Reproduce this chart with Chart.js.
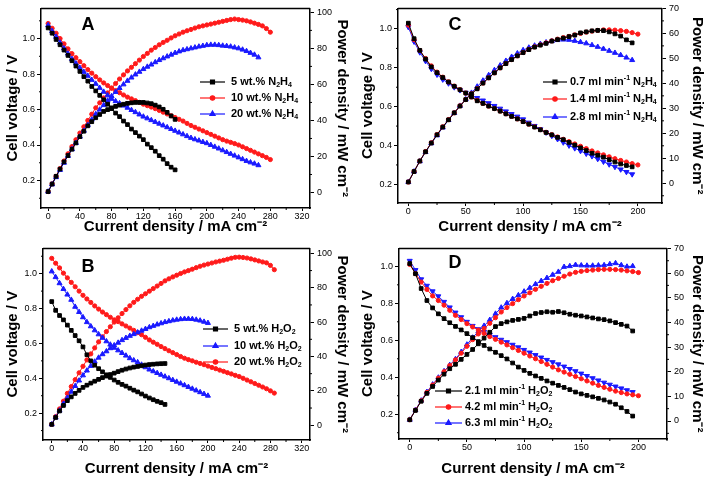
<!DOCTYPE html>
<html>
<head>
<meta charset="utf-8">
<script src="https://cdn.jsdelivr.net/npm/chart.js@4.4.0/dist/chart.umd.min.js"></script>
<style>
  body { margin: 0; background: #fff; width: 710px; height: 482px; position: relative; overflow: hidden; }
  canvas { position: absolute; }
</style>
</head>
<body>
<canvas id="chartA"></canvas>
<canvas id="chartB"></canvas>
<canvas id="chartC"></canvas>
<canvas id="chartD"></canvas>
<script>
// Current density (mA cm-2) sampling used by the curves
const currAB = [0,5,10,15,20,25,30,35,40,45,50,55,60,65,70,75,80,85,90,95,100,105,110,115,120,125,130,135,140,145,
  150,155,160,165,170,175,180,185,190,195,200,205,210,215,220,225,230,235,240,245,250,255,260,265,270,275,280,285];
const currCD = [0,5,10,15,20,25,30,35,40,45,50,55,60,65,70,75,80,85,90,95,100,105,110,115,120,125,130,135,140,145,
  150,155,160,165,170,175,180,185,190,195,200];

// A: N2H4 concentration
const aBlackV = [1.06,1.03,0.995,0.965,0.935,0.905,0.875,0.845,0.815,0.785,0.76,0.73,0.705,0.68,0.655,0.63,0.605,0.58,0.56,0.535,
  0.515,0.49,0.47,0.45,0.43,0.405,0.385,0.365,0.34,0.32,0.295,0.275,0.26];
const aBlackP = [0.5,4.7,9,13,17,20.5,24,27.5,31,34,37,39.3,41.5,43.3,45,46,47,47.8,48.5,49,49.5,49.8,50,50,50,49.7,49.3,48.5,47.5,46.2,
  44.5,42.5,40.6];
const aRedV = [1.085,1.058,1.03,1.0,0.97,0.942,0.915,0.892,0.87,0.847,0.825,0.805,0.785,0.767,0.75,0.735,0.72,0.707,0.695,0.682,
  0.67,0.66,0.65,0.64,0.63,0.622,0.614,0.605,0.595,0.585,0.575,0.565,0.555,0.545,0.535,0.522,0.51,0.5,0.49,0.48,
  0.47,0.46,0.45,0.44,0.43,0.422,0.415,0.408,0.40,0.39,0.38,0.37,0.36,0.35,0.34,0.33,0.318];
const aRedP = [0.5,4.8,9,13.3,17.5,21.5,25.5,29.3,33,36.5,40,43.5,47,49.8,52.5,55.3,58,60.5,63,65.3,
  67.5,69.5,71.5,73.5,75.5,77.2,79,80.5,82,83.3,84.5,85.8,87,88,89,89.8,90.5,91.3,92,92.5,
  93,93.5,94,94.5,95,95.5,96,96.3,96,95.7,95.3,94.7,94,93.3,92.5,91,89];
const aBlueV = [1.075,1.042,1.01,0.977,0.945,0.915,0.885,0.86,0.835,0.812,0.79,0.767,0.745,0.722,0.70,0.68,0.66,0.647,0.635,0.622,
  0.61,0.597,0.585,0.572,0.56,0.55,0.54,0.53,0.52,0.51,0.50,0.49,0.48,0.47,0.46,0.45,0.44,0.432,0.425,0.417,
  0.41,0.40,0.39,0.38,0.37,0.36,0.35,0.34,0.33,0.32,0.31,0.302,0.295,0.286];
const aBlueP = [0.5,4.5,8.5,12.5,16.5,20.3,24,27.5,31,34.3,37.5,40.5,43.5,46,48.5,51,53.5,55.8,58,60,
  62,63.8,65.5,67,68.5,69.8,71,72.3,73.5,74.5,75.5,76.5,77.5,78.3,79,79.5,80,80.5,81,81.4,
  81.8,82,82,81.8,81.5,81.3,81,80.5,80,79.3,78.5,77.5,76.5,75];

// B: H2O2 concentration
const bBlackV = [0.84,0.79,0.76,0.735,0.705,0.675,0.645,0.615,0.58,0.535,0.50,0.475,0.455,0.437,0.42,0.405,0.39,0.377,0.365,0.355,
  0.343,0.332,0.322,0.31,0.298,0.287,0.277,0.268,0.26,0.25];
const bBlackP = [0.5,4.5,8.3,11.5,14.3,16.5,18.5,20.3,22,23.3,24.5,25.6,26.7,27.7,28.6,29.5,30.3,31.2,32,32.7,
  33.3,33.8,34.2,34.6,35,35.3,35.5,35.7,35.8,35.9];
const bBlueV = [1.013,0.98,0.945,0.912,0.88,0.85,0.81,0.78,0.75,0.722,0.698,0.675,0.652,0.632,0.612,0.593,0.575,0.56,0.545,0.53,
  0.515,0.503,0.492,0.478,0.463,0.45,0.44,0.43,0.42,0.41,0.40,0.39,0.38,0.37,0.36,0.35,0.34,0.33,0.32,0.31,0.30];
const bBlueP = [0.5,4.5,8.5,12.5,16,19.5,22.8,26,29,31.8,34.5,37,39.3,41.3,43,44.8,46.5,48,49.5,50.8,
  52,53,54,55,56,57,57.8,58.6,59.3,60,60.5,61,61.4,61.7,61.9,61.9,61.8,61.4,60.9,60.2,59.5];
const bRedV = [1.088,1.06,1.033,1.003,0.976,0.95,0.925,0.9,0.876,0.855,0.835,0.815,0.797,0.78,0.765,0.75,0.735,0.725,0.712,0.70,
  0.688,0.675,0.662,0.65,0.635,0.62,0.607,0.595,0.582,0.57,0.558,0.547,0.536,0.525,0.515,0.507,0.50,0.492,0.485,0.478,
  0.47,0.462,0.455,0.447,0.44,0.432,0.425,0.417,0.41,0.40,0.39,0.38,0.37,0.36,0.35,0.34,0.328,0.315];
const bRedP = [0.5,5,9.5,14,18.5,22.5,26.5,30.5,34.3,38,41.5,45,48.5,51.5,54.5,57.3,60,62.5,65,67.3,
  69.5,71.5,73.3,75,76.5,78,79.5,81,82.5,84,85.2,86.3,87.3,88.3,89.2,90,90.8,91.7,92.5,93.2,
  93.8,94.4,95,95.5,96,96.6,97.2,97.7,97.8,97.6,97.3,96.8,96.2,95.6,95,94.5,93,90.5];

// C: N2H4 flow rate
const cBlackV = [1.03,0.95,0.89,0.845,0.805,0.775,0.75,0.727,0.705,0.687,0.67,0.65,0.63,0.617,0.603,0.59,0.577,0.563,0.55,0.537,
  0.523,0.51,0.495,0.481,0.467,0.455,0.442,0.43,0.416,0.402,0.388,0.374,0.36,0.35,0.34,0.327,0.315,0.305,0.297,0.29];
const cRedV = [1.02,0.945,0.89,0.848,0.81,0.778,0.752,0.728,0.706,0.688,0.67,0.65,0.632,0.617,0.603,0.59,0.577,0.563,0.55,0.537,
  0.523,0.51,0.496,0.482,0.468,0.456,0.444,0.432,0.42,0.408,0.396,0.384,0.372,0.362,0.352,0.342,0.332,0.323,0.315,0.307,0.30];
const cBlueV = [1.01,0.935,0.88,0.835,0.795,0.765,0.74,0.72,0.70,0.685,0.672,0.658,0.645,0.632,0.618,0.604,0.59,0.576,0.562,0.549,
  0.535,0.518,0.501,0.484,0.467,0.45,0.433,0.416,0.40,0.386,0.372,0.358,0.345,0.331,0.317,0.303,0.29,0.277,0.264,0.252];
const cBlackP = [0.5,4.7,8.9,12.6,16.1,19.4,22.5,25.4,28.2,30.9,33.5,35.8,37.8,40.1,42.2,44.2,46.2,47.9,49.5,51,
  52.3,53.5,54.5,55.3,56,56.9,57.5,58.1,58.7,59.3,60.2,60.6,61,61.2,61.1,60.6,59.8,58.9,57.4,56.2];
const cRedP = [0.5,4.7,8.9,12.7,16.2,19.5,22.6,25.5,28.2,31,33.5,35.8,37.9,40.1,42.2,44.2,46.2,47.9,49.5,51,
  52.3,53.6,54.6,55.4,56.2,57,57.7,58.3,58.8,59.4,60,60.5,60.9,61.2,61.4,61.4,61.3,61.1,60.8,60.3,59.7];
const cBlueP = [0.5,4.7,8.8,12.5,16,19.2,22.3,25.3,28.1,31,33.6,36.2,38.7,41.1,43.3,45.3,47.2,49,50.6,52,
  53.3,54.3,55.1,55.8,56.4,56.9,57.3,57.5,57.4,57,56.5,56,55.3,54.6,53.8,53,52.2,51.3,50.3,49.3];

// D: H2O2 flow rate
const dBlackV = [1.015,0.96,0.88,0.815,0.775,0.743,0.717,0.695,0.675,0.656,0.636,0.614,0.593,0.572,0.553,0.535,0.517,0.499,0.477,0.455,
  0.437,0.421,0.407,0.394,0.38,0.368,0.356,0.345,0.333,0.32,0.31,0.302,0.294,0.286,0.277,0.266,0.254,0.235,0.215,0.19];
const dRedV = [1.01,0.96,0.915,0.875,0.84,0.815,0.79,0.762,0.735,0.712,0.69,0.672,0.655,0.637,0.62,0.605,0.59,0.575,0.56,0.545,
  0.53,0.515,0.5,0.485,0.47,0.455,0.44,0.428,0.416,0.404,0.392,0.38,0.368,0.356,0.345,0.335,0.325,0.317,0.31,0.305,0.30];
const dBlueV = [1.03,0.98,0.93,0.895,0.865,0.838,0.808,0.778,0.75,0.725,0.70,0.678,0.66,0.645,0.63,0.617,0.603,0.59,0.576,0.562,
  0.548,0.534,0.52,0.507,0.494,0.482,0.47,0.458,0.445,0.433,0.42,0.407,0.395,0.383,0.371,0.36,0.35,0.34,0.33,0.32];
const dBlackP = [0.5,4.3,8,11.2,14,16.6,19,21.2,23,25,27,29,31.3,33.6,36,38.3,39.5,40.2,40.8,41.2,
  41.6,42.6,43.6,44,44.3,44.1,44.4,43.9,43.3,42.9,42.6,42.2,41.8,41.4,41.1,40.6,39.9,39.2,38.5,36.5];
const dRedP = [0.5,4.4,8.2,11.6,14.6,17.4,20,22.5,24.8,27.5,30.3,33,35.3,37.5,39.6,41.9,44.2,46,47.6,49.2,
  50.7,52,53.4,54.6,55.8,56.9,57.8,58.7,59.6,60.3,60.7,61,61.2,61.4,61.5,61.5,61.4,61.2,60.9,60.6,60.2];
const dBlueP = [0.5,4.5,8.3,11.8,14.8,17.6,20.2,22.7,25.1,28,31,33.8,36.3,38.6,41,43.5,46,47.8,49.5,51,
  52.5,54,55.5,56.8,58,59.3,60.5,62.5,62.8,63.3,63.1,63,63,63.1,63.2,63.6,64,63.2,62.6,62.8];

// Legend labels (_x = subscript, ^{..} = superscript)
const labelsA = ['5 wt.% N_2H_4', '10 wt.% N_2H_4', '20 wt.% N_2H_4'];
const labelsB = ['5 wt.% H_2O_2', '10 wt.% H_2O_2', '20 wt.% H_2O_2'];
const labelsC = ['0.7 ml min^{-1} N_2H_4', '1.4 ml min^{-1} N_2H_4', '2.8 ml min^{-1} N_2H_4'];
const labelsD = ['2.1 ml min^{-1} H_2O_2', '4.2 ml min^{-1} H_2O_2', '6.3 ml min^{-1} H_2O_2'];

const FONT = '"Liberation Sans", Arial, sans-serif';
Chart.defaults.font.family = FONT;
Chart.defaults.color = '#000';

const BLACK = '#000000', RED = '#ff1a1a', BLUE = '#1a1aff';
const sq = { color: BLACK, style: 'rect' };
const ci = { color: RED, style: 'circle' };
const tr = { color: BLUE, style: 'triangle' };

// split "N_2H_4" style strings into [text, kind] parts
function parseRich(str) {
  const parts = [];
  let buf = '', i = 0;
  while (i < str.length) {
    const c = str[i];
    if (c === '_' || c === '^') {
      if (buf) { parts.push([buf, '']); buf = ''; }
      let t;
      if (str[i + 1] === '{') {
        const j = str.indexOf('}', i);
        t = str.slice(i + 2, j);
        i = j + 1;
      } else {
        t = str[i + 1];
        i += 2;
      }
      parts.push([t, c === '_' ? 'sub' : 'sup']);
    } else {
      buf += c;
      i++;
    }
  }
  if (buf) parts.push([buf, '']);
  return parts;
}

function drawRich(ctx, x, y, str, size) {
  for (const [t, kind] of parseRich(str)) {
    const fs = kind ? Math.round(size * 0.68) : size;
    ctx.font = `bold ${fs}px ${FONT}`;
    const dy = kind === 'sub' ? size * 0.32 : kind === 'sup' ? -size * 0.38 : 0;
    ctx.fillText(t, x, y + dy);
    x += ctx.measureText(t).width;
  }
}

// top frame line, minor ticks, panel letter and legend
const extrasPlugin = {
  id: 'extras',
  afterDraw(chart, args, opts) {
    const ctx = chart.ctx;
    const a = chart.chartArea;
    ctx.save();
    ctx.strokeStyle = '#000';
    ctx.lineWidth = 1.5;
    ctx.beginPath();
    ctx.moveTo(a.left, a.top);
    ctx.lineTo(a.right, a.top);
    ctx.stroke();

    // minor ticks
    ctx.lineWidth = 1;
    for (const id of ['x', 'y', 'y2']) {
      const s = chart.scales[id];
      const step = opts.minor[id];
      const k0 = Math.ceil(s.min / step - 1e-9), k1 = Math.floor(s.max / step + 1e-9);
      ctx.beginPath();
      for (let k = k0; k <= k1; k++) {
        if (k % 2 === 0) continue;
        const p = s.getPixelForValue(k * step);
        if (id === 'x') { ctx.moveTo(p, a.bottom); ctx.lineTo(p, a.bottom + 2); }
        else if (id === 'y') { ctx.moveTo(a.left, p); ctx.lineTo(a.left - 2, p); }
        else { ctx.moveTo(a.right, p); ctx.lineTo(a.right + 2, p); }
      }
      ctx.stroke();
    }

    // panel letter
    ctx.fillStyle = '#000';
    ctx.font = `bold 18px ${FONT}`;
    ctx.textAlign = 'center';
    ctx.textBaseline = 'middle';
    ctx.fillText(opts.letter, opts.letterPos[0], opts.letterPos[1]);

    // legend
    const lg = opts.legend;
    ctx.textAlign = 'left';
    lg.items.forEach((it, i) => {
      const y = lg.rows[i];
      ctx.strokeStyle = it.color;
      ctx.fillStyle = it.color;
      ctx.lineWidth = 1.2;
      ctx.beginPath();
      ctx.moveTo(lg.x1, y);
      ctx.lineTo(lg.x2, y);
      ctx.stroke();
      Chart.helpers.drawPoint(ctx, { pointStyle: it.style, radius: it.style === 'rect' ? 2.8 : it.style === 'triangle' ? 3 : 2.2, rotation: 0, borderWidth: 1 }, (lg.x1 + lg.x2) / 2, y);
      ctx.fillStyle = '#000';
      drawRich(ctx, lg.tx, y, it.label, 11);
    });
    ctx.restore();
  }
};

function makeChart(p) {
  const canvas = document.getElementById(p.id);
  canvas.width = p.w;
  canvas.height = p.h;
  canvas.style.left = p.left + 'px';
  canvas.style.top = p.top + 'px';

  const datasets = p.series.map(s => ({
    data: s.ys.map((v, i) => ({ x: p.xs[i], y: v })),
    yAxisID: s.axis,
    borderColor: s.color,
    backgroundColor: s.color,
    borderWidth: 1,
    pointStyle: s.style,
    pointRadius: s.style === 'rect' ? 2.6 : s.style === 'triangle' ? 2.9 : 2.1,
    pointRotation: s.rot || 0,
    pointBorderWidth: 1,
    tension: 0
  }));

  const tickFont = { size: 9 };
  const titleFont = { size: 15, weight: 'bold' };
  const grid = { drawOnChartArea: false, drawTicks: true, tickLength: 4, color: '#000', tickWidth: 1 };
  const border = { display: true, color: '#000', width: 1.5 };

  new Chart(canvas, {
    type: 'line',
    data: { datasets },
    options: {
      responsive: false,
      animation: false,
      events: [],
      layout: { padding: { top: p.pad.t } },
      plugins: {
        legend: { display: false },
        tooltip: { enabled: false },
        extras: { minor: p.minor, letter: p.letter, letterPos: p.letterPos, legend: p.legend }
      },
      scales: {
        x: {
          type: 'linear', position: 'bottom', min: p.x[0], max: p.x[1],
          ticks: { stepSize: p.x[2], includeBounds: false, maxRotation: 0, autoSkip: false, padding: 0, font: tickFont, color: '#000' },
          grid: { ...grid, tickLength: 3 }, border,
          title: { display: true, text: 'Current density / mA cm⁻²', font: titleFont, color: '#000', padding: { top: 0, bottom: 4 } },
          afterFit: s => { s.height = p.pad.b; }
        },
        y: {
          type: 'linear', position: 'left', min: p.y[0], max: p.y[1],
          ticks: { stepSize: 0.2, includeBounds: false, padding: 2, font: tickFont, color: '#000', callback: v => v.toFixed(1) },
          grid, border,
          title: { display: true, text: 'Cell voltage / V', font: titleFont, color: '#000', padding: { top: 4, bottom: 0 } },
          afterFit: s => { s.width = p.pad.l; }
        },
        y2: {
          type: 'linear', position: 'right', min: p.y2[0], max: p.y2[1],
          ticks: { stepSize: p.y2[2], includeBounds: false, padding: 3, font: tickFont, color: '#000' },
          grid, border,
          title: { display: true, text: 'Power density / mW cm⁻²', font: titleFont, color: '#000', padding: { top: 4, bottom: 0 } },
          afterFit: s => { s.width = p.pad.r; }
        }
      }
    },
    plugins: [extrasPlugin]
  });
}

const legendItems = (styles, labels) => styles.map((st, i) => ({ ...st, label: labels[i] }));

makeChart({
  id: 'chartA', left: 0, top: 0, w: 355, h: 240, pad: { l: 41, r: 45, t: 6, b: 32 },
  xs: currAB, x: [-9, 330, 40], y: [0.045, 1.17], y2: [-8.6, 102.2, 20], minor: { x: 20, y: 0.1, y2: 10 },
  letter: 'A', letterPos: [88, 25],
  legend: { x1: 200, x2: 225, tx: 231, rows: [82, 98, 114], items: legendItems([sq, ci, tr], labelsA) },
  series: [
    { ...sq, ys: aBlackV, axis: 'y' }, { ...sq, ys: aBlackP, axis: 'y2' },
    { ...tr, ys: aBlueV, axis: 'y' }, { ...tr, ys: aBlueP, axis: 'y2' },
    { ...ci, ys: aRedV, axis: 'y' }, { ...ci, ys: aRedP, axis: 'y2' }
  ]
});

makeChart({
  id: 'chartB', left: 0, top: 240, w: 355, h: 242, pad: { l: 43, r: 45, t: 5, b: 42 },
  xs: currAB, x: [-11.2, 330.7, 40], y: [0.046, 1.145], y2: [-8.6, 102.9, 20], minor: { x: 20, y: 0.1, y2: 10 },
  letter: 'B', letterPos: [88, 27],
  legend: { x1: 203, x2: 228, tx: 234, rows: [89, 106, 122], items: legendItems([sq, tr, ci], labelsB) },
  series: [
    { ...sq, ys: bBlackV, axis: 'y' }, { ...sq, ys: bBlackP, axis: 'y2' },
    { ...tr, ys: bBlueV, axis: 'y' }, { ...tr, ys: bBlueP, axis: 'y2' },
    { ...ci, ys: bRedV, axis: 'y' }, { ...ci, ys: bRedP, axis: 'y2' }
  ]
});

makeChart({
  id: 'chartC', left: 355, top: 0, w: 355, h: 240, pad: { l: 43, r: 48, t: 6, b: 37 },
  xs: currCD, x: [-9, 221, 50], y: [0.104, 1.106], y2: [-7.9, 70, 10], minor: { x: 25, y: 0.1, y2: 5 },
  letter: 'C', letterPos: [100, 25],
  legend: { x1: 188, x2: 212, tx: 215, rows: [82, 99, 117], items: legendItems([sq, ci, tr], labelsC) },
  series: [
    { ...sq, ys: cBlackV, axis: 'y' }, { ...sq, ys: cBlackP, axis: 'y2' },
    { ...ci, ys: cRedV, axis: 'y' }, { ...ci, ys: cRedP, axis: 'y2' },
    { ...tr, ys: cBlueV, axis: 'y', rot: 180 }, { ...tr, ys: cBlueP, axis: 'y2' }
  ]
});

makeChart({
  id: 'chartD', left: 355, top: 240, w: 355, h: 242, pad: { l: 44, r: 43, t: 5, b: 43 },
  xs: currCD, x: [-9.4, 225, 50], y: [0.066, 1.097], y2: [-7.3, 70, 10], minor: { x: 25, y: 0.1, y2: 5 },
  letter: 'D', letterPos: [100, 23],
  legend: { x1: 80, x2: 107, tx: 110, rows: [151, 167, 183], items: legendItems([sq, ci, tr], labelsD) },
  series: [
    { ...sq, ys: dBlackV, axis: 'y' }, { ...sq, ys: dBlackP, axis: 'y2' },
    { ...ci, ys: dRedV, axis: 'y' }, { ...ci, ys: dRedP, axis: 'y2' },
    { ...tr, ys: dBlueV, axis: 'y', rot: 180 }, { ...tr, ys: dBlueP, axis: 'y2' }
  ]
});
</script>
</body>
</html>
